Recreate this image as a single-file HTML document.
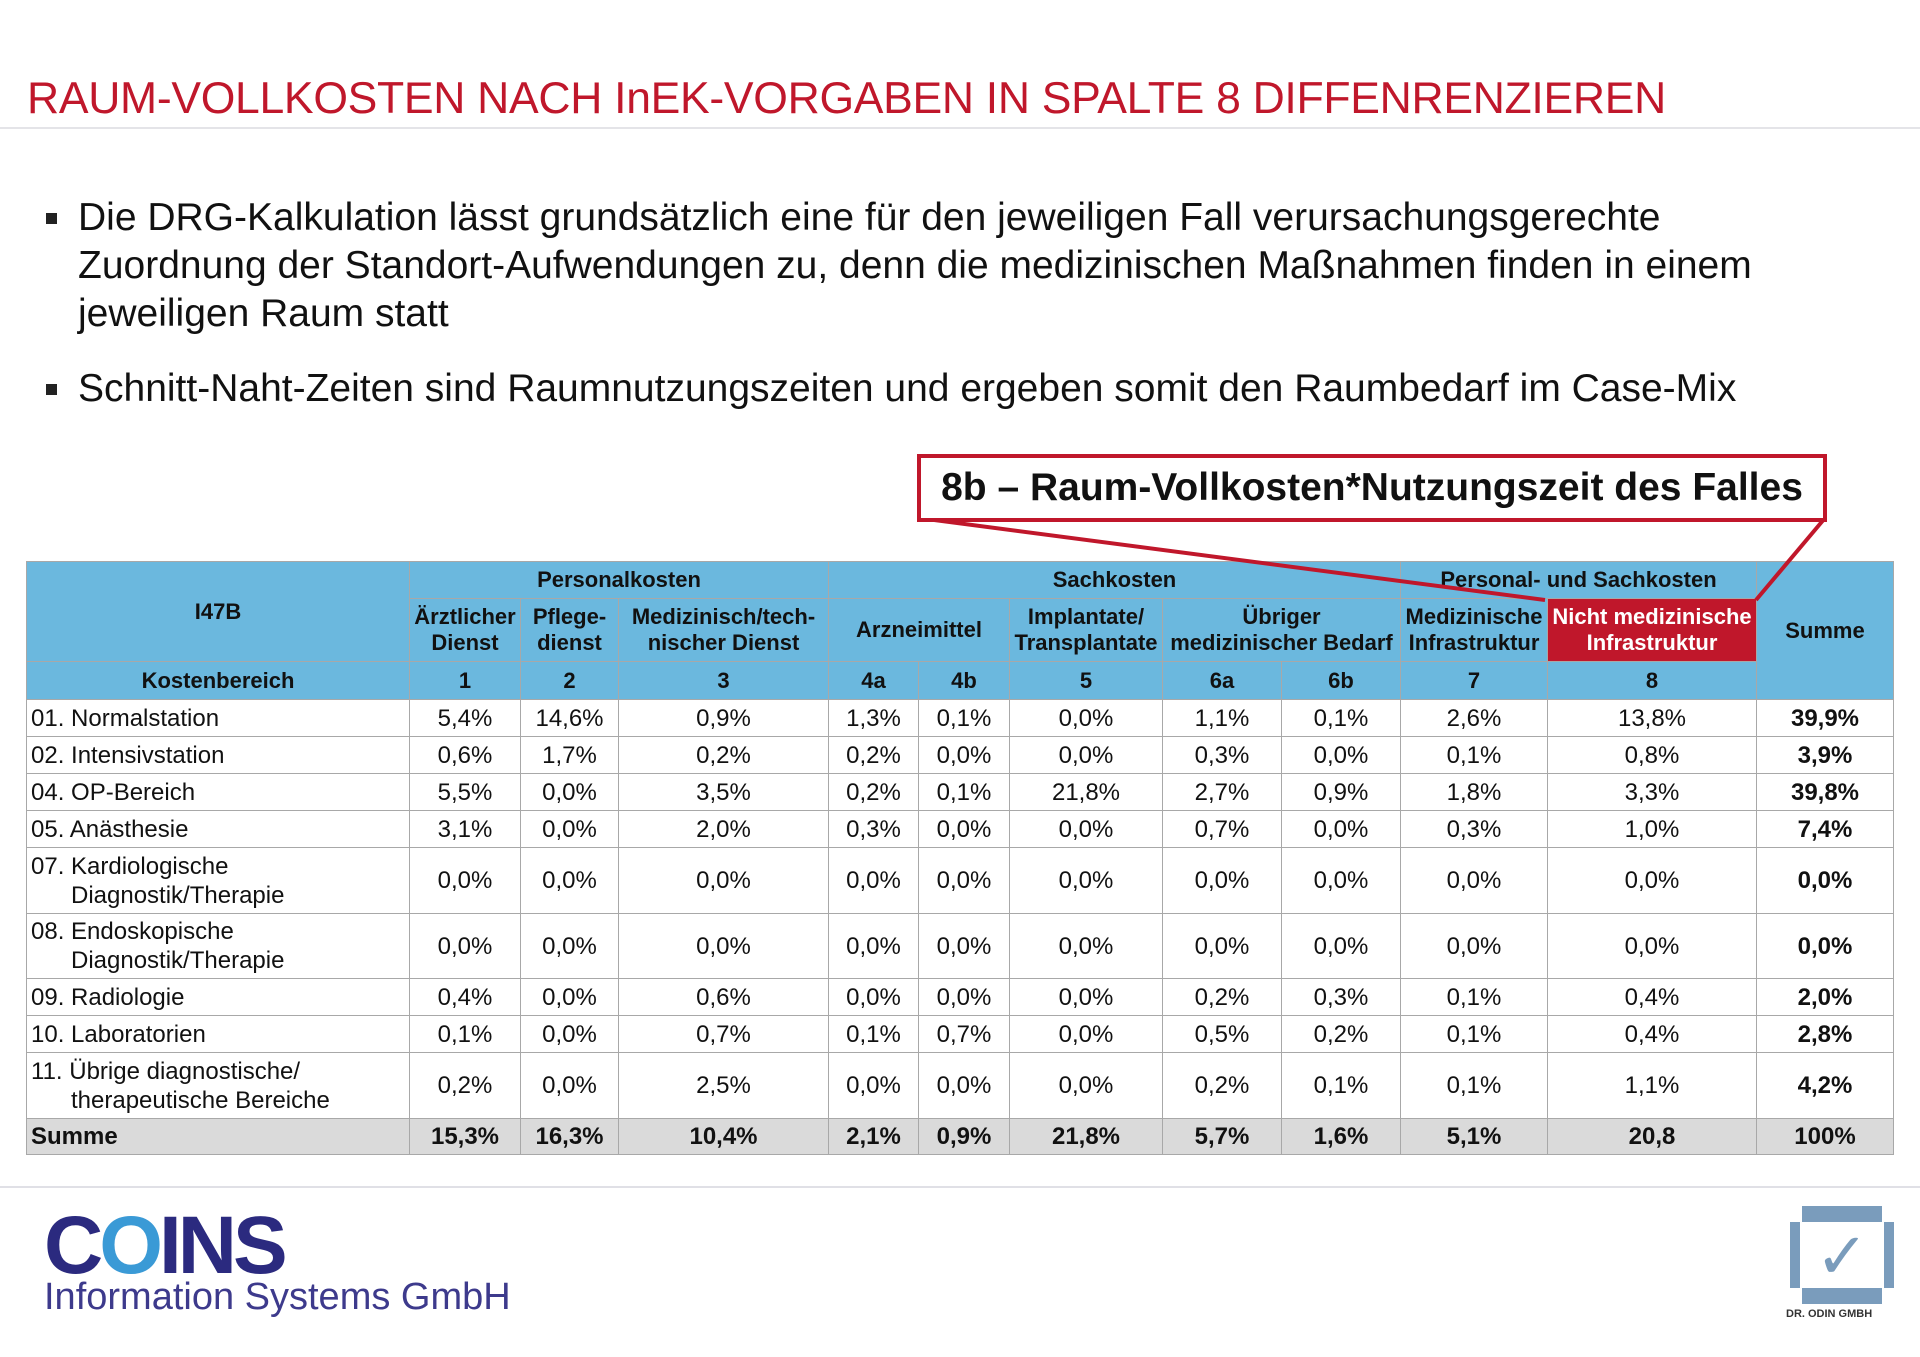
<!DOCTYPE html>
<html><head><meta charset="utf-8">
<style>
body{margin:0;width:1920px;height:1357px;background:#fff;position:relative;overflow:hidden;font-family:"Liberation Sans",Arial,sans-serif;color:#111}
.abs{position:absolute}
#title{left:27px;top:74px;font-size:44.5px;color:#c0172b;white-space:nowrap;letter-spacing:-0.3px}
#rule1{left:0;top:127px;width:1920px;height:2px;background:#e4e4e8}
.bul{left:46px;width:1860px;font-size:39px;line-height:48px;white-space:nowrap}
.bul .sq{position:absolute;left:0;top:19px;width:11px;height:11px;background:#222}
.bul .tx{margin-left:32px}
table{position:absolute;left:26px;top:561px;border-collapse:collapse;table-layout:fixed;font-size:24px}
td{border:1px solid #a8a8a8;padding:0;text-align:center;vertical-align:middle;line-height:29px}
.h td{background:#6bb8de;font-weight:bold;font-size:22px;line-height:26px}
.h td.red{background:#c0172b;color:#fff}
td.l{text-align:left;padding-left:4px}
td.b{font-weight:bold}
tr.s td{background:#dadada;font-weight:bold}
.ind{padding-left:40px;display:inline-block}
#callout{left:917px;top:454px;width:902px;height:60px;border:4px solid #c0172b;font-size:39px;font-weight:bold;text-align:center;line-height:60px;background:#fff}
#rule2{left:0;top:1186px;width:1920px;height:2px;background:#e0e0e6}
</style></head><body>
<div id="title" class="abs">RAUM-VOLLKOSTEN NACH InEK-VORGABEN IN SPALTE 8 DIFFENRENZIEREN</div>
<div id="rule1" class="abs"></div>
<div class="abs bul" style="top:194px"><span class="sq"></span><div class="tx">Die DRG-Kalkulation lässt grundsätzlich eine für den jeweiligen Fall verursachungsgerechte<br>Zuordnung der Standort-Aufwendungen zu, denn die medizinischen Maßnahmen finden in einem<br>jeweiligen Raum statt</div></div>
<div class="abs bul" style="top:365px"><span class="sq"></span><div class="tx">Schnitt-Naht-Zeiten sind Raumnutzungszeiten und ergeben somit den Raumbedarf im Case-Mix</div></div>

<table>
<colgroup><col style="width:383px"><col style="width:111px"><col style="width:98px"><col style="width:210px"><col style="width:90px"><col style="width:91px"><col style="width:153px"><col style="width:119px"><col style="width:119px"><col style="width:147px"><col style="width:209px"><col style="width:137px"></colgroup>
<tr class="h" style="height:37px"><td rowspan="2">I47B</td><td colspan="3">Personalkosten</td><td colspan="5">Sachkosten</td><td colspan="2">Personal- und Sachkosten</td><td rowspan="3">Summe</td></tr>
<tr class="h" style="height:63px"><td>Ärztlicher<br>Dienst</td><td>Pflege-<br>dienst</td><td>Medizinisch/tech-<br>nischer Dienst</td><td colspan="2">Arzneimittel</td><td>Implantate/<br>Transplantate</td><td colspan="2">Übriger<br>medizinischer Bedarf</td><td>Medizinische<br>Infrastruktur</td><td class="red">Nicht medizinische<br>Infrastruktur</td></tr>
<tr class="h" style="height:38px"><td>Kostenbereich</td><td>1</td><td>2</td><td>3</td><td>4a</td><td>4b</td><td>5</td><td>6a</td><td>6b</td><td>7</td><td>8</td></tr>
<tr style="height:37px"><td class="l">01. Normalstation</td><td>5,4%</td><td>14,6%</td><td>0,9%</td><td>1,3%</td><td>0,1%</td><td>0,0%</td><td>1,1%</td><td>0,1%</td><td>2,6%</td><td>13,8%</td><td class="b">39,9%</td></tr>
<tr style="height:37px"><td class="l">02. Intensivstation</td><td>0,6%</td><td>1,7%</td><td>0,2%</td><td>0,2%</td><td>0,0%</td><td>0,0%</td><td>0,3%</td><td>0,0%</td><td>0,1%</td><td>0,8%</td><td class="b">3,9%</td></tr>
<tr style="height:37px"><td class="l">04. OP-Bereich</td><td>5,5%</td><td>0,0%</td><td>3,5%</td><td>0,2%</td><td>0,1%</td><td>21,8%</td><td>2,7%</td><td>0,9%</td><td>1,8%</td><td>3,3%</td><td class="b">39,8%</td></tr>
<tr style="height:37px"><td class="l">05. Anästhesie</td><td>3,1%</td><td>0,0%</td><td>2,0%</td><td>0,3%</td><td>0,0%</td><td>0,0%</td><td>0,7%</td><td>0,0%</td><td>0,3%</td><td>1,0%</td><td class="b">7,4%</td></tr>
<tr style="height:66px"><td class="l">07. Kardiologische<br><span class="ind">Diagnostik/Therapie</span></td><td>0,0%</td><td>0,0%</td><td>0,0%</td><td>0,0%</td><td>0,0%</td><td>0,0%</td><td>0,0%</td><td>0,0%</td><td>0,0%</td><td>0,0%</td><td class="b">0,0%</td></tr>
<tr style="height:65px"><td class="l">08. Endoskopische<br><span class="ind">Diagnostik/Therapie</span></td><td>0,0%</td><td>0,0%</td><td>0,0%</td><td>0,0%</td><td>0,0%</td><td>0,0%</td><td>0,0%</td><td>0,0%</td><td>0,0%</td><td>0,0%</td><td class="b">0,0%</td></tr>
<tr style="height:37px"><td class="l">09. Radiologie</td><td>0,4%</td><td>0,0%</td><td>0,6%</td><td>0,0%</td><td>0,0%</td><td>0,0%</td><td>0,2%</td><td>0,3%</td><td>0,1%</td><td>0,4%</td><td class="b">2,0%</td></tr>
<tr style="height:37px"><td class="l">10. Laboratorien</td><td>0,1%</td><td>0,0%</td><td>0,7%</td><td>0,1%</td><td>0,7%</td><td>0,0%</td><td>0,5%</td><td>0,2%</td><td>0,1%</td><td>0,4%</td><td class="b">2,8%</td></tr>
<tr style="height:66px"><td class="l">11. Übrige diagnostische/<br><span class="ind">therapeutische Bereiche</span></td><td>0,2%</td><td>0,0%</td><td>2,5%</td><td>0,0%</td><td>0,0%</td><td>0,0%</td><td>0,2%</td><td>0,1%</td><td>0,1%</td><td>1,1%</td><td class="b">4,2%</td></tr>
<tr class="s" style="height:36px"><td class="l">Summe</td><td>15,3%</td><td>16,3%</td><td>10,4%</td><td>2,1%</td><td>0,9%</td><td>21,8%</td><td>5,7%</td><td>1,6%</td><td>5,1%</td><td>20,8</td><td>100%</td></tr>
</table>

<svg class="abs" style="left:0;top:0" width="1920" height="1357">
<line x1="919" y1="518" x2="1545" y2="600" stroke="#c0172b" stroke-width="4"/>
<line x1="1825" y1="518" x2="1756" y2="600" stroke="#c0172b" stroke-width="4"/>
</svg>
<div id="callout" class="abs">8b – Raum-Vollkosten*Nutzungszeit des Falles</div>

<div id="rule2" class="abs"></div>
<div class="abs" style="left:44px;top:1206px;font-size:82px;font-weight:bold;color:#2b2a7f;letter-spacing:-4px;line-height:80px">C<span style="color:#3a9ad6">O</span>INS</div>
<div class="abs" style="left:44px;top:1276px;font-size:38px;color:#3d3a8c;white-space:nowrap">Information Systems GmbH</div>
<div class="abs" style="left:1790px;top:1206px;width:104px;height:98px">
<svg width="104" height="98"><rect x="12" y="0" width="80" height="16" fill="#7a9cbc"/><rect x="12" y="82" width="80" height="16" fill="#7a9cbc"/><rect x="0" y="16" width="10" height="66" fill="#7a9cbc"/><rect x="94" y="16" width="10" height="66" fill="#7a9cbc"/><text x="52" y="72" font-size="64" fill="#7a9cbc" text-anchor="middle" font-family="DejaVu Sans">✓</text></svg>
</div>
<div class="abs" style="left:1786px;top:1308px;font-size:11px;font-weight:bold;color:#333">DR. ODIN GMBH</div>
</body></html>
